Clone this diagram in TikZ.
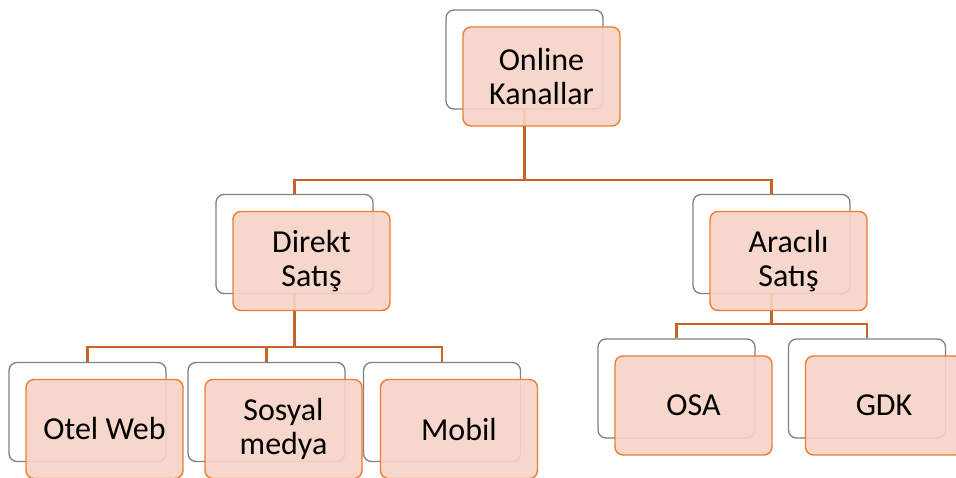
\documentclass[tikz,border=0pt]{standalone}
\usepackage{fontspec}
\setmainfont{Carlito}
\definecolor{linkc}{RGB}{197,101,42}
\definecolor{frontedge}{RGB}{237,125,49}
\definecolor{frontfill}{RGB}{247,211,199}
\definecolor{backedge}{RGB}{128,128,128}
\tikzset{
  backbox/.style={draw=backedge, line width=1.3pt, fill=white, rounded corners=8pt,
    minimum width=157pt, minimum height=99pt, inner sep=0pt},
  frontbox/.style={draw=frontedge, line width=1.4pt, fill=frontfill, fill opacity=0.9,
    text opacity=1, rounded corners=8pt, minimum width=157pt, minimum height=99pt,
    inner sep=0pt, align=center, font=\fontsize{32}{34}\selectfont, text=black},
  link/.style={draw=linkc, line width=2.8pt}
}
\begin{document}
\begin{tikzpicture}[x=1pt,y=1pt]
\useasboundingbox (0,0) rectangle (956,477);
\clip (0,0) rectangle (956,477);
\fill[white] (0,0) rectangle (956,477);

% bus levels
\coordinate (busTop) at (0,297);
\coordinate (busLeft) at (0,130);
\coordinate (busRight) at (0,153);

% back (outline) cards
\node[backbox] (onB) at (524.5,417.5) {};
\node[backbox] (dsB) at (294.5,233) {};
\node[backbox] (asB) at (771.5,233) {};
\node[backbox] (owB) at (87.5,65) {};
\node[backbox] (smB) at (266.5,65) {};
\node[backbox] (mbB) at (442,65) {};
\node[backbox] (osB) at (676.5,88.5) {};
\node[backbox] (gdB) at (867,88.5) {};

% connectors
\draw[link] (onB.south) -- (onB.south |- busTop);
\draw[link] (dsB.north) |- (busTop -| asB.north) -- (asB.north);
\draw[link] (dsB.south) -- (dsB.south |- busLeft);
\draw[link] (owB.north) |- (busLeft -| mbB.north) -- (mbB.north);
\draw[link] (smB.north) -- (smB.north |- busLeft);
\draw[link] (asB.south) -- (asB.south |- busRight);
\draw[link] (osB.north) |- (busRight -| gdB.north) -- (gdB.north);

% front (filled) cards
\node[frontbox] (on) at (541.5,400.5) {Online\\Kanallar};
\node[frontbox] (ds) at (311.5,216) {Direkt\\Satış};
\node[frontbox] (as) at (788.5,216) {Aracılı\\Satış};
\node[frontbox] (ow) at (104.5,48) {Otel Web};
\node[frontbox] (sm) at (283.5,48) {Sosyal\\medya};
\node[frontbox] (mb) at (459,48) {Mobil};
\node[frontbox] (os) at (693.5,71.5) {OSA};
\node[frontbox] (gd) at (884,71.5) {GDK};
\end{tikzpicture}
\end{document}
